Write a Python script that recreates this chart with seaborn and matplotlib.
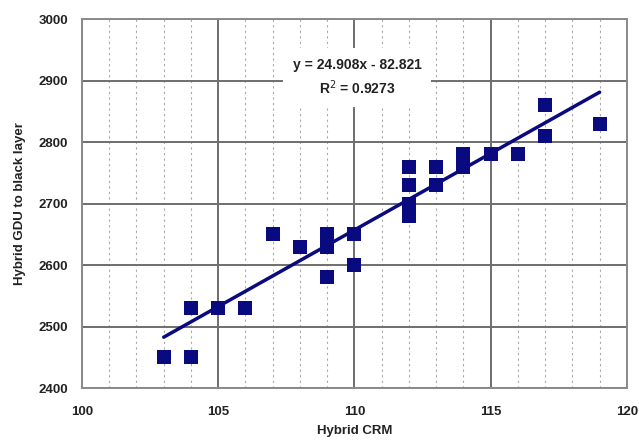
import numpy as np
import pandas as pd
import matplotlib
matplotlib.use("Agg")
import matplotlib.pyplot as plt
import seaborn as sns
from matplotlib.ticker import MultipleLocator

sns.set_style("white")
plt.rcParams['font.family'] = ['Liberation Sans', 'DejaVu Sans']

# data
crm = [103, 104, 104, 105, 106, 107, 108, 109, 109, 109, 109, 110, 110,
       112, 112, 112, 112, 112, 113, 113, 114, 114, 114, 115, 116, 117, 117, 119]
gdu = [2450, 2450, 2530, 2530, 2530, 2650, 2630, 2650, 2640, 2630, 2580, 2650, 2600,
       2760, 2730, 2700, 2690, 2680, 2760, 2730, 2780, 2770, 2760, 2780, 2780, 2860, 2810, 2830]
slope = 24.908
intercept = -82.821
r2 = 0.9273

df = pd.DataFrame({"crm": crm, "gdu": gdu})
fit_x = np.array([min(crm), max(crm)])
fit = pd.DataFrame({"crm": fit_x, "gdu": slope * fit_x + intercept})

fig = plt.figure(figsize=(6.39, 4.46), dpi=100)
ax = fig.add_axes([0.1283, 0.130, 0.8527, 0.827])

navy = "#0a0a80"
sns.lineplot(data=fit, x="crm", y="gdu", color=navy, linewidth=2.5, ax=ax, zorder=3)
sns.scatterplot(data=df, x="crm", y="gdu", marker="s", s=90, color=navy,
                linewidth=0, ax=ax, zorder=4)

ax.set_xlim(100, 120)
ax.set_ylim(2400, 3000)
ax.xaxis.set_major_locator(MultipleLocator(5))
ax.xaxis.set_minor_locator(MultipleLocator(1))
ax.yaxis.set_major_locator(MultipleLocator(100))

ax.grid(which="major", axis="both", color="#6e6e6e", linewidth=1.4, linestyle="-")
ax.grid(which="minor", axis="x", color="#a8a8a8", linewidth=0.8, linestyle=(0, (2, 3)))
ax.set_axisbelow(True)

for s in ax.spines.values():
    s.set_color("#8a8a8a")
    s.set_linewidth(1.4)

ax.tick_params(axis="both", which="major", direction="out", length=4, width=1,
               color="#555555", labelsize=9.5, pad=6)
ax.tick_params(axis="x", which="minor", direction="out", length=0)
ax.tick_params(axis="x", which="major", pad=9)
for lab in ax.get_xticklabels() + ax.get_yticklabels():
    lab.set_fontweight("bold")
    lab.set_color("#222222")

ax.set_xlabel("Hybrid CRM", fontsize=9.5, fontweight="bold", color="#222222", labelpad=5)
ax.set_ylabel("Hybrid GDU to black layer", fontsize=9.5, fontweight="bold",
              color="#222222", labelpad=9)

ax.text(110.1, 2905, "y = %.3fx - %.3f\nR$^2$ = %.4f" % (slope, -intercept, r2),
        ha="center", va="center", fontsize=10, fontweight="bold", color="#222222",
        linespacing=1.4, zorder=5,
        bbox=dict(facecolor="white", edgecolor="none", pad=7))

fig.savefig("out.png", dpi=100)
